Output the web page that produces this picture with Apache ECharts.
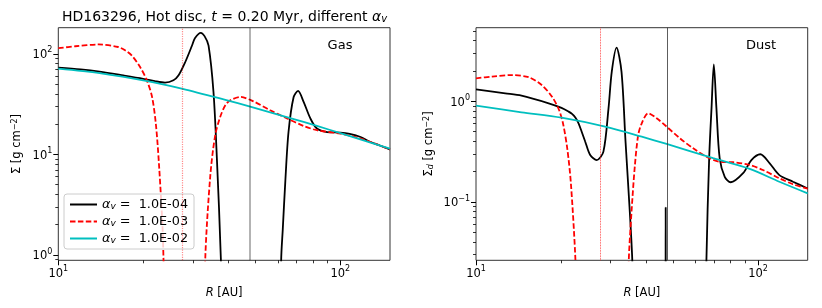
<!DOCTYPE html>
<html><head><meta charset="utf-8">
<script src="https://cdn.jsdelivr.net/npm/echarts@6/dist/echarts.min.js"></script>
<style>html,body{margin:0;padding:0;background:#fff}#c{width:822px;height:308px}</style>
</head><body><div id="c"></div>
<script>
// ---------------- data ----------------
const alphaLabels = ['1.0E-04', '1.0E-03', '1.0E-02'];

// Gas surface density [g cm^-2] vs R [AU]
const gasR_a4 = [10, 12, 14, 17, 20, 22, 23.9, 25.6, 26.7, 28.2, 29.8, 30.5, 32, 33, 34.1, 35.5, 36.5, 37.7, 38.6, 61.2, 61.7, 62.5, 63.8, 65.5, 68.3, 70.8, 74.1, 78.3, 82.6, 89.7, 100, 108, 118, 127.8, 138.7, 150];
const gasS_a4 = [73, 70, 66.5, 61, 56.5, 53.5, 51.8, 54.6, 61.2, 83, 121, 143, 162, 150, 121, 41.8, 9.1, 0.93, 0.05, 0.05, 0.9, 1.8, 5.33, 16.7, 37.2, 42.8, 33.3, 22.8, 18.1, 16.7, 16.5, 16.0, 14.9, 13.3, 12.2, 11.2];

const gasR_a3 = [10, 11.5, 13.9, 16.3, 17.3, 18.2, 19.5, 20.6, 21.5, 22.2, 22.8, 23.4, 23.6, 24.2, 32.6, 33.2, 34.6, 36.0, 37.5, 39.1, 40.7, 44.2, 49.2, 56.4, 64.7, 74.1, 82.6, 100, 118, 150];
const gasS_a3 = [114, 119, 124, 117, 108, 96.6, 74, 54.6, 37.3, 19.5, 7.25, 1.99, 0.93, 0.05, 0.05, 0.93, 6.22, 15.5, 23.6, 30.8, 34.5, 37.3, 33.7, 27.5, 22.8, 19.2, 17.4, 16.1, 14.4, 11.2];

const gasR_a2 = [10, 14, 20.9, 27.6, 39.1, 47.9, 66.4, 82.6, 100, 120, 150];
const gasS_a2 = [71.3, 64.4, 53.3, 44.9, 34.9, 29.9, 23.0, 19.2, 16.3, 13.9, 11.4];

// Dust surface density [g cm^-2] vs R [AU]
const dustR_a4 = [10, 12.7, 14.5, 18.1, 20.1, 21.3, 21.9, 22.5, 23.1, 23.7, 24.4, 25.4, 26.8, 28.3, 29.5, 30.3, 31.5, 32.8, 33.9, 35.1, 35.8, 36.5, 46.95, 47.05, 47.15, 65.2, 65.6, 67.1, 68.4, 69.7, 71.2, 73.1, 76.2, 80, 88.5, 94.7, 101.9, 110, 119, 133, 150];
const dustS_a4 = [1.316, 1.2, 1.137, 0.955, 0.86, 0.79, 0.75, 0.69, 0.605, 0.499, 0.397, 0.293, 0.261, 0.316, 0.851, 1.97, 3.41, 1.97, 0.397, 0.0801, 0.0276, 0.004, 0.004, 0.088, 0.004, 0.004, 0.026, 0.272, 0.851, 2.33, 0.851, 0.272, 0.178, 0.157, 0.193, 0.261, 0.298, 0.242, 0.185, 0.159, 0.136];

const dustR_a3 = [10, 11.4, 13.4, 15.4, 17.1, 18.6, 19.7, 20.4, 21.1, 21.7, 22.5, 23.0, 34.3, 34.8, 35.6, 36.6, 37.6, 38.7, 40.8, 43.7, 47.4, 52.8, 58.9, 65.6, 73.1, 81.6, 93.4, 104, 119, 133, 150];
const dustS_a3 = [1.69, 1.76, 1.82, 1.73, 1.45, 1.11, 0.82, 0.582, 0.328, 0.153, 0.028, 0.004, 0.004, 0.026, 0.08, 0.233, 0.463, 0.605, 0.76, 0.678, 0.56, 0.43, 0.341, 0.282, 0.251, 0.248, 0.233, 0.208, 0.172, 0.15, 0.136];

const dustR_a2 = [10, 14.5, 20.1, 28.7, 38.7, 47.4, 69.3, 93.4, 119, 150];
const dustS_a2 = [0.904, 0.778, 0.687, 0.56, 0.445, 0.377, 0.272, 0.213, 0.159, 0.122];

// Planet locations [AU]
const planetR = [27.6, 47.7];

// Tick values
const xMajor = [10, 100];
const xMinor = [20, 30, 40, 50, 60, 70, 80, 90];
const gasYMajor = [1, 10, 100];
const gasYMinor = [0.9, 2, 3, 4, 5, 6, 7, 8, 9, 20, 30, 40, 50, 60, 70, 80, 90];
const dustYMajor = [0.1, 1];
const dustYMinor = [0.03, 0.04, 0.05, 0.06, 0.07, 0.08, 0.09, 0.2, 0.3, 0.4, 0.5, 0.6, 0.7, 0.8, 0.9, 2, 3, 4, 5];

// ---------------- chart ----------------
const FONT = 'DejaVu Sans';
const pairs = (xs, ys) => xs.map((x, i) => [x, ys[i]]);
const supFmt = v => {
  const e = Math.round(Math.log10(v));
  return '{b|10}{s|' + (e < 0 ? '\u2212' + (-e) : e) + '}';
};
const tickRich = {
  b: {fontSize: 11.5, fontFamily: FONT, color: '#000', padding: [3, 0, 0, 0]},
  s: {fontSize: 8, fontFamily: FONT, color: '#000', verticalAlign: 'top'}
};
const nameRich = {
  n: {fontSize: 11.5, fontFamily: FONT, color: '#000'},
  i: {fontSize: 11.5, fontFamily: FONT, color: '#000', fontStyle: 'italic'},
  sup: {fontSize: 8, fontFamily: FONT, color: '#000', verticalAlign: 'top'},
  sub: {fontSize: 8, fontFamily: FONT, color: '#000', fontStyle: 'italic', verticalAlign: 'bottom'}
};

const grids = [
  {left: 58.3, top: 27.7, width: 331.7, height: 232.6, show: true, borderColor: '#333', borderWidth: 1},
  {left: 476, top: 27.7, width: 331.7, height: 232.6, show: true, borderColor: '#333', borderWidth: 1}
];

function xAxes(g) {
  return [
    {gridIndex: g, type: 'log', min: 10, max: 150, position: 'bottom',
     axisLine: {show: false}, splitLine: {show: false}, minorTick: {show: false},
     axisTick: {customValues: xMajor, length: 5, lineStyle: {color: '#000', width: 1}},
     axisLabel: {customValues: xMajor, formatter: supFmt, rich: tickRich, margin: 5},
     name: '{i|R}{n| [AU]}', nameLocation: 'middle', nameGap: 27,
     nameTextStyle: {rich: nameRich}},
    {gridIndex: g, type: 'log', min: 10, max: 150, position: 'bottom',
     axisLine: {show: false}, splitLine: {show: false},
     axisTick: {customValues: xMinor, length: 3, lineStyle: {color: '#000', width: 0.8}},
     axisLabel: {show: false}}
  ];
}
function yAxes(g, min, max, major, minor, name, gap) {
  return [
    {gridIndex: g, type: 'log', min: min, max: max, position: 'left',
     axisLine: {show: false}, splitLine: {show: false},
     axisTick: {customValues: major, length: 5, lineStyle: {color: '#000', width: 1}},
     axisLabel: {customValues: major, formatter: supFmt, rich: tickRich, margin: 6},
     name: name, nameLocation: 'middle', nameGap: gap, nameRotate: 90,
     nameTextStyle: {rich: nameRich}},
    {gridIndex: g, type: 'log', min: min, max: max, position: 'left',
     axisLine: {show: false}, splitLine: {show: false},
     axisTick: {customValues: minor, length: 3, lineStyle: {color: '#000', width: 0.8}},
     axisLabel: {show: false}}
  ];
}

const colors = ['#000000', '#ff0000', '#00bfbf'];
const dashes = ['solid', [5.5, 2.4], 'solid'];
const gasData = [pairs(gasR_a4, gasS_a4), pairs(gasR_a3, gasS_a3), pairs(gasR_a2, gasS_a2)];
const dustData = [pairs(dustR_a4, dustS_a4), pairs(dustR_a3, dustS_a3), pairs(dustR_a2, dustS_a2)];

const series = [];
// planet marker lines
series.push({type: 'line', xAxisIndex: 0, yAxisIndex: 0, data: [], silent: true,
  markLine: {silent: true, symbol: 'none', label: {show: false}, animation: false,
    data: [
      {xAxis: planetR[0], lineStyle: {color: 'rgba(255,0,0,0.45)', width: 1.2, type: 'dotted'}},
      {xAxis: planetR[1], lineStyle: {color: 'rgba(0,0,0,0.4)', width: 1.5, type: 'solid'}}
    ]}});
series.push({type: 'line', xAxisIndex: 2, yAxisIndex: 2, data: [], silent: true,
  markLine: {silent: true, symbol: 'none', label: {show: false}, animation: false,
    data: [
      {xAxis: planetR[0], lineStyle: {color: '#ff2020', width: 0.8, type: 'dotted'}},
      {xAxis: planetR[1], lineStyle: {color: '#333', width: 0.8, type: 'solid'}}
    ]}});
[gasData, dustData].forEach((set, p) => {
  set.forEach((d, k) => {
    series.push({
      name: alphaLabels[k], type: 'line', xAxisIndex: p * 2, yAxisIndex: p * 2,
      data: d, symbol: 'none', smooth: 0.3, clip: true,
      lineStyle: {color: colors[k], width: 1.8, type: dashes[k]},
      itemStyle: {color: colors[k]}
    });
  });
});

const chart = echarts.init(document.getElementById('c'), null, {renderer: 'canvas'});
chart.setOption({
  animation: false,
  backgroundColor: '#fff',
  grid: grids,
  xAxis: [...xAxes(0), ...xAxes(1)],
  yAxis: [
    ...yAxes(0, 0.886, 182, gasYMajor, gasYMinor, '{n|\u03a3 [g cm}{sup|\u22122}{n|]}', 35),
    ...yAxes(1, 0.02636, 5.38, dustYMajor, dustYMinor, '{n|\u03a3}{sub|d}{n| [g cm}{sup|\u22122}{n|]}', 41)
  ],
  legend: {
    data: alphaLabels, orient: 'vertical', left: 64, top: 194,
    itemWidth: 27, itemHeight: 15, itemGap: 4, padding: [4, 6, 4, 5],
    backgroundColor: 'rgba(255,255,255,0.8)', borderColor: '#ccc', borderWidth: 1, borderRadius: 3,
    selectedMode: false,
    itemStyle: {opacity: 0, borderWidth: 0},
    lineStyle: {opacity: 1},
    formatter: name => '{a|\u03b1}{s|v}{t| =  ' + name + '}',
    textStyle: {rich: {
      a: {fontSize: 12.8, fontFamily: FONT, fontStyle: 'italic', color: '#000'},
      s: {fontSize: 9, fontFamily: FONT, fontStyle: 'italic', color: '#000', verticalAlign: 'bottom'},
      t: {fontSize: 12.8, fontFamily: FONT, color: '#000'}
    }}
  },
  graphic: [
    {type: 'text', x: 224.5, y: 17.5, silent: true, style: {
      text: '{n|HD163296, Hot disc, }{i|t}{n| = 0.20 Myr, different }{i|\u03b1}{s|v}',
      align: 'center', verticalAlign: 'middle',
      rich: {
        n: {fontSize: 14, fontFamily: FONT, fill: '#000'},
        i: {fontSize: 14, fontFamily: FONT, fontStyle: 'italic', fill: '#000'},
        s: {fontSize: 10, fontFamily: FONT, fontStyle: 'italic', fill: '#000', verticalAlign: 'bottom'}
      }}},
    {type: 'text', x: 340, y: 46, silent: true, style: {text: 'Gas', align: 'center', verticalAlign: 'middle', fontSize: 13, fontFamily: FONT, fill: '#000'}},
    {type: 'text', x: 761, y: 46, silent: true, style: {text: 'Dust', align: 'center', verticalAlign: 'middle', fontSize: 13, fontFamily: FONT, fill: '#000'}}
  ],
  series: series
});
</script>
</body></html>
